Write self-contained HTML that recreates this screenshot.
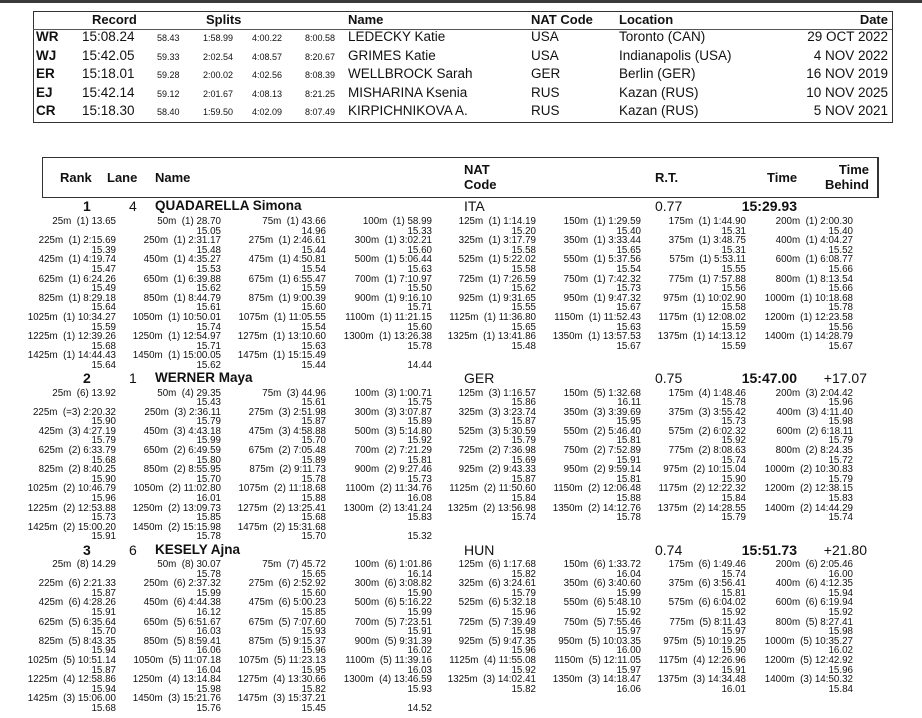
<!DOCTYPE html>
<html><head><meta charset="utf-8"><style>
body{margin:0;width:922px;height:718px;overflow:hidden;background:#fff;font-family:"Liberation Sans",Arial,sans-serif;color:#111;position:relative}
.a{position:absolute;white-space:pre}
.bar{position:absolute;left:0;top:0;width:922px;height:3px;background:#3a3a3a}
.box{position:absolute;left:33px;top:11px;width:858px;height:110px;border:1px solid #333}
.hl{position:absolute;left:33px;top:29px;width:859px;height:1px;background:#555}
.th{font-weight:bold;font-size:13px;line-height:16px;top:12px}
.rc{font-size:13.5px;line-height:16px}
.code{font-weight:bold;font-size:13.5px;line-height:16px;left:36px}
.sp{font-size:9px;line-height:16px}
.box2{position:absolute;left:42px;top:157px;width:834px;height:39px;border:1px solid #333;border-right-width:2px}
.h2{font-weight:bold;font-size:13px;line-height:15px}
.sec{position:absolute;left:0;width:922px}
.hd{position:absolute;top:0;font-size:14px;line-height:16px;white-space:pre}
.rows{position:absolute;left:0;top:15px;width:922px}
.r{position:relative;height:19.2px}
.r>div{position:absolute;top:0;text-align:right;font-size:9.8px;line-height:9.6px;white-space:pre}
.r>div:nth-child(1){right:806px}.r>div:nth-child(2){right:701px}.r>div:nth-child(3){right:596px}.r>div:nth-child(4){right:490px}
.r>div:nth-child(5){right:386px}.r>div:nth-child(6){right:281px}.r>div:nth-child(7){right:176px}.r>div:nth-child(8){right:69px}
</style></head><body>
<div class="bar"></div>
<div class="box"></div><div class="hl"></div>
<div class="a th" style="left:92px">Record</div>
<div class="a th" style="left:206px">Splits</div>
<div class="a th" style="left:348px">Name</div>
<div class="a th" style="left:531px">NAT Code</div>
<div class="a th" style="left:619px">Location</div>
<div class="a th" style="right:34px">Date</div>

<div class="a code" style="top:29px">WR</div><div class="a rc" style="left:82px;top:29px">15:08.24</div>
<div class="a sp" style="left:157px;top:30px">58.43</div><div class="a sp" style="left:203px;top:30px">1:58.99</div><div class="a sp" style="left:252px;top:30px">4:00.22</div><div class="a sp" style="left:305px;top:30px">8:00.58</div>
<div class="a rc" style="left:348px;top:29px">LEDECKY Katie</div><div class="a rc" style="left:531px;top:29px">USA</div><div class="a rc" style="left:619px;top:29px">Toronto (CAN)</div><div class="a rc" style="right:34px;top:29px">29 OCT 2022</div>

<div class="a code" style="top:48px">WJ</div><div class="a rc" style="left:82px;top:48px">15:42.05</div>
<div class="a sp" style="left:157px;top:49px">59.33</div><div class="a sp" style="left:203px;top:49px">2:02.54</div><div class="a sp" style="left:252px;top:49px">4:08.57</div><div class="a sp" style="left:305px;top:49px">8:20.67</div>
<div class="a rc" style="left:348px;top:48px">GRIMES Katie</div><div class="a rc" style="left:531px;top:48px">USA</div><div class="a rc" style="left:619px;top:48px">Indianapolis (USA)</div><div class="a rc" style="right:34px;top:48px">4 NOV 2022</div>

<div class="a code" style="top:66px">ER</div><div class="a rc" style="left:82px;top:66px">15:18.01</div>
<div class="a sp" style="left:157px;top:67px">59.28</div><div class="a sp" style="left:203px;top:67px">2:00.02</div><div class="a sp" style="left:252px;top:67px">4:02.56</div><div class="a sp" style="left:305px;top:67px">8:08.39</div>
<div class="a rc" style="left:348px;top:66px">WELLBROCK Sarah</div><div class="a rc" style="left:531px;top:66px">GER</div><div class="a rc" style="left:619px;top:66px">Berlin (GER)</div><div class="a rc" style="right:34px;top:66px">16 NOV 2019</div>

<div class="a code" style="top:85px">EJ</div><div class="a rc" style="left:82px;top:85px">15:42.14</div>
<div class="a sp" style="left:157px;top:86px">59.12</div><div class="a sp" style="left:203px;top:86px">2:01.67</div><div class="a sp" style="left:252px;top:86px">4:08.13</div><div class="a sp" style="left:305px;top:86px">8:21.25</div>
<div class="a rc" style="left:348px;top:85px">MISHARINA Ksenia</div><div class="a rc" style="left:531px;top:85px">RUS</div><div class="a rc" style="left:619px;top:85px">Kazan (RUS)</div><div class="a rc" style="right:34px;top:85px">10 NOV 2025</div>

<div class="a code" style="top:103px">CR</div><div class="a rc" style="left:82px;top:103px">15:18.30</div>
<div class="a sp" style="left:157px;top:104px">58.40</div><div class="a sp" style="left:203px;top:104px">1:59.50</div><div class="a sp" style="left:252px;top:104px">4:02.09</div><div class="a sp" style="left:305px;top:104px">8:07.49</div>
<div class="a rc" style="left:348px;top:103px">KIRPICHNIKOVA A.</div><div class="a rc" style="left:531px;top:103px">RUS</div><div class="a rc" style="left:619px;top:103px">Kazan (RUS)</div><div class="a rc" style="right:34px;top:103px">5 NOV 2021</div>

<div class="box2"></div>
<div class="a h2" style="left:60px;top:170px">Rank</div>
<div class="a h2" style="left:107px;top:170px">Lane</div>
<div class="a h2" style="left:155px;top:170px">Name</div>
<div class="a h2" style="left:464px;top:162px">NAT<br>Code</div>
<div class="a h2" style="left:655px;top:170px">R.T.</div>
<div class="a h2" style="left:767px;top:170px">Time</div>
<div class="a h2" style="right:53px;top:162px;text-align:right">Time<br>Behind</div>

<!-- Section 1 -->
<div class="sec" style="top:198px">
<div class="hd" style="left:83px;font-weight:bold">1</div>
<div class="hd" style="left:129px">4</div>
<div class="hd" style="left:155px;font-weight:bold;font-size:13.5px">QUADARELLA Simona</div>
<div class="hd" style="left:464px">ITA</div>
<div class="hd" style="left:655px">0.77</div>
<div class="hd" style="right:125px;font-weight:bold">15:29.93</div>
<div class="rows" style="top:19px">
<div class="r"><div>25m  (1) 13.65</div><div>50m  (1) 28.70
15.05</div><div>75m  (1) 43.66
14.96</div><div>100m  (1) 58.99
15.33</div><div>125m  (1) 1:14.19
15.20</div><div>150m  (1) 1:29.59
15.40</div><div>175m  (1) 1:44.90
15.31</div><div>200m  (1) 2:00.30
15.40</div></div>
<div class="r"><div>225m  (1) 2:15.69
15.39</div><div>250m  (1) 2:31.17
15.48</div><div>275m  (1) 2:46.61
15.44</div><div>300m  (1) 3:02.21
15.60</div><div>325m  (1) 3:17.79
15.58</div><div>350m  (1) 3:33.44
15.65</div><div>375m  (1) 3:48.75
15.31</div><div>400m  (1) 4:04.27
15.52</div></div>
<div class="r"><div>425m  (1) 4:19.74
15.47</div><div>450m  (1) 4:35.27
15.53</div><div>475m  (1) 4:50.81
15.54</div><div>500m  (1) 5:06.44
15.63</div><div>525m  (1) 5:22.02
15.58</div><div>550m  (1) 5:37.56
15.54</div><div>575m  (1) 5:53.11
15.55</div><div>600m  (1) 6:08.77
15.66</div></div>
<div class="r"><div>625m  (1) 6:24.26
15.49</div><div>650m  (1) 6:39.88
15.62</div><div>675m  (1) 6:55.47
15.59</div><div>700m  (1) 7:10.97
15.50</div><div>725m  (1) 7:26.59
15.62</div><div>750m  (1) 7:42.32
15.73</div><div>775m  (1) 7:57.88
15.56</div><div>800m  (1) 8:13.54
15.66</div></div>
<div class="r"><div>825m  (1) 8:29.18
15.64</div><div>850m  (1) 8:44.79
15.61</div><div>875m  (1) 9:00.39
15.60</div><div>900m  (1) 9:16.10
15.71</div><div>925m  (1) 9:31.65
15.55</div><div>950m  (1) 9:47.32
15.67</div><div>975m  (1) 10:02.90
15.58</div><div>1000m  (1) 10:18.68
15.78</div></div>
<div class="r"><div>1025m  (1) 10:34.27
15.59</div><div>1050m  (1) 10:50.01
15.74</div><div>1075m  (1) 11:05.55
15.54</div><div>1100m  (1) 11:21.15
15.60</div><div>1125m  (1) 11:36.80
15.65</div><div>1150m  (1) 11:52.43
15.63</div><div>1175m  (1) 12:08.02
15.59</div><div>1200m  (1) 12:23.58
15.56</div></div>
<div class="r"><div>1225m  (1) 12:39.26
15.68</div><div>1250m  (1) 12:54.97
15.71</div><div>1275m  (1) 13:10.60
15.63</div><div>1300m  (1) 13:26.38
15.78</div><div>1325m  (1) 13:41.86
15.48</div><div>1350m  (1) 13:57.53
15.67</div><div>1375m  (1) 14:13.12
15.59</div><div>1400m  (1) 14:28.79
15.67</div></div>
<div class="r"><div>1425m  (1) 14:44.43
15.64</div><div>1450m  (1) 15:00.05
15.62</div><div>1475m  (1) 15:15.49
15.44</div><div> 
14.44</div></div>
</div></div>

<!-- Section 2 -->
<div class="sec" style="top:370px">
<div class="hd" style="left:83px;font-weight:bold">2</div>
<div class="hd" style="left:129px">1</div>
<div class="hd" style="left:155px;font-weight:bold;font-size:13.5px">WERNER Maya</div>
<div class="hd" style="left:464px">GER</div>
<div class="hd" style="left:655px">0.75</div>
<div class="hd" style="right:125px;font-weight:bold">15:47.00</div>
<div class="hd" style="right:55px">+17.07</div>
<div class="rows" style="top:18.5px">
<div class="r"><div>25m  (6) 13.92</div><div>50m  (4) 29.35
15.43</div><div>75m  (3) 44.96
15.61</div><div>100m  (3) 1:00.71
15.75</div><div>125m  (3) 1:16.57
15.86</div><div>150m  (5) 1:32.68
16.11</div><div>175m  (4) 1:48.46
15.78</div><div>200m  (3) 2:04.42
15.96</div></div>
<div class="r"><div>225m  (=3) 2:20.32
15.90</div><div>250m  (3) 2:36.11
15.79</div><div>275m  (3) 2:51.98
15.87</div><div>300m  (3) 3:07.87
15.89</div><div>325m  (3) 3:23.74
15.87</div><div>350m  (3) 3:39.69
15.95</div><div>375m  (3) 3:55.42
15.73</div><div>400m  (3) 4:11.40
15.98</div></div>
<div class="r"><div>425m  (3) 4:27.19
15.79</div><div>450m  (3) 4:43.18
15.99</div><div>475m  (3) 4:58.88
15.70</div><div>500m  (3) 5:14.80
15.92</div><div>525m  (3) 5:30.59
15.79</div><div>550m  (2) 5:46.40
15.81</div><div>575m  (2) 6:02.32
15.92</div><div>600m  (2) 6:18.11
15.79</div></div>
<div class="r"><div>625m  (2) 6:33.79
15.68</div><div>650m  (2) 6:49.59
15.80</div><div>675m  (2) 7:05.48
15.89</div><div>700m  (2) 7:21.29
15.81</div><div>725m  (2) 7:36.98
15.69</div><div>750m  (2) 7:52.89
15.91</div><div>775m  (2) 8:08.63
15.74</div><div>800m  (2) 8:24.35
15.72</div></div>
<div class="r"><div>825m  (2) 8:40.25
15.90</div><div>850m  (2) 8:55.95
15.70</div><div>875m  (2) 9:11.73
15.78</div><div>900m  (2) 9:27.46
15.73</div><div>925m  (2) 9:43.33
15.87</div><div>950m  (2) 9:59.14
15.81</div><div>975m  (2) 10:15.04
15.90</div><div>1000m  (2) 10:30.83
15.79</div></div>
<div class="r"><div>1025m  (2) 10:46.79
15.96</div><div>1050m  (2) 11:02.80
16.01</div><div>1075m  (2) 11:18.68
15.88</div><div>1100m  (2) 11:34.76
16.08</div><div>1125m  (2) 11:50.60
15.84</div><div>1150m  (2) 12:06.48
15.88</div><div>1175m  (2) 12:22.32
15.84</div><div>1200m  (2) 12:38.15
15.83</div></div>
<div class="r"><div>1225m  (2) 12:53.88
15.73</div><div>1250m  (2) 13:09.73
15.85</div><div>1275m  (2) 13:25.41
15.68</div><div>1300m  (2) 13:41.24
15.83</div><div>1325m  (2) 13:56.98
15.74</div><div>1350m  (2) 14:12.76
15.78</div><div>1375m  (2) 14:28.55
15.79</div><div>1400m  (2) 14:44.29
15.74</div></div>
<div class="r"><div>1425m  (2) 15:00.20
15.91</div><div>1450m  (2) 15:15.98
15.78</div><div>1475m  (2) 15:31.68
15.70</div><div> 
15.32</div></div>
</div></div>

<!-- Section 3 -->
<div class="sec" style="top:542px">
<div class="hd" style="left:83px;font-weight:bold">3</div>
<div class="hd" style="left:129px">6</div>
<div class="hd" style="left:155px;font-weight:bold;font-size:13.5px">KESELY Ajna</div>
<div class="hd" style="left:464px">HUN</div>
<div class="hd" style="left:655px">0.74</div>
<div class="hd" style="right:125px;font-weight:bold">15:51.73</div>
<div class="hd" style="right:55px">+21.80</div>
<div class="rows" style="top:18px">
<div class="r"><div>25m  (8) 14.29</div><div>50m  (8) 30.07
15.78</div><div>75m  (7) 45.72
15.65</div><div>100m  (6) 1:01.86
16.14</div><div>125m  (6) 1:17.68
15.82</div><div>150m  (6) 1:33.72
16.04</div><div>175m  (6) 1:49.46
15.74</div><div>200m  (6) 2:05.46
16.00</div></div>
<div class="r"><div>225m  (6) 2:21.33
15.87</div><div>250m  (6) 2:37.32
15.99</div><div>275m  (6) 2:52.92
15.60</div><div>300m  (6) 3:08.82
15.90</div><div>325m  (6) 3:24.61
15.79</div><div>350m  (6) 3:40.60
15.99</div><div>375m  (6) 3:56.41
15.81</div><div>400m  (6) 4:12.35
15.94</div></div>
<div class="r"><div>425m  (6) 4:28.26
15.91</div><div>450m  (6) 4:44.38
16.12</div><div>475m  (6) 5:00.23
15.85</div><div>500m  (6) 5:16.22
15.99</div><div>525m  (6) 5:32.18
15.96</div><div>550m  (6) 5:48.10
15.92</div><div>575m  (6) 6:04.02
15.92</div><div>600m  (6) 6:19.94
15.92</div></div>
<div class="r"><div>625m  (5) 6:35.64
15.70</div><div>650m  (5) 6:51.67
16.03</div><div>675m  (5) 7:07.60
15.93</div><div>700m  (5) 7:23.51
15.91</div><div>725m  (5) 7:39.49
15.98</div><div>750m  (5) 7:55.46
15.97</div><div>775m  (5) 8:11.43
15.97</div><div>800m  (5) 8:27.41
15.98</div></div>
<div class="r"><div>825m  (5) 8:43.35
15.94</div><div>850m  (5) 8:59.41
16.06</div><div>875m  (5) 9:15.37
15.96</div><div>900m  (5) 9:31.39
16.02</div><div>925m  (5) 9:47.35
15.96</div><div>950m  (5) 10:03.35
16.00</div><div>975m  (5) 10:19.25
15.90</div><div>1000m  (5) 10:35.27
16.02</div></div>
<div class="r"><div>1025m  (5) 10:51.14
15.87</div><div>1050m  (5) 11:07.18
16.04</div><div>1075m  (5) 11:23.13
15.95</div><div>1100m  (5) 11:39.16
16.03</div><div>1125m  (4) 11:55.08
15.92</div><div>1150m  (5) 12:11.05
15.97</div><div>1175m  (4) 12:26.96
15.91</div><div>1200m  (5) 12:42.92
15.96</div></div>
<div class="r"><div>1225m  (4) 12:58.86
15.94</div><div>1250m  (4) 13:14.84
15.98</div><div>1275m  (4) 13:30.66
15.82</div><div>1300m  (4) 13:46.59
15.93</div><div>1325m  (3) 14:02.41
15.82</div><div>1350m  (3) 14:18.47
16.06</div><div>1375m  (3) 14:34.48
16.01</div><div>1400m  (3) 14:50.32
15.84</div></div>
<div class="r"><div>1425m  (3) 15:06.00
15.68</div><div>1450m  (3) 15:21.76
15.76</div><div>1475m  (3) 15:37.21
15.45</div><div> 
14.52</div></div>
</div></div>
</body></html>
